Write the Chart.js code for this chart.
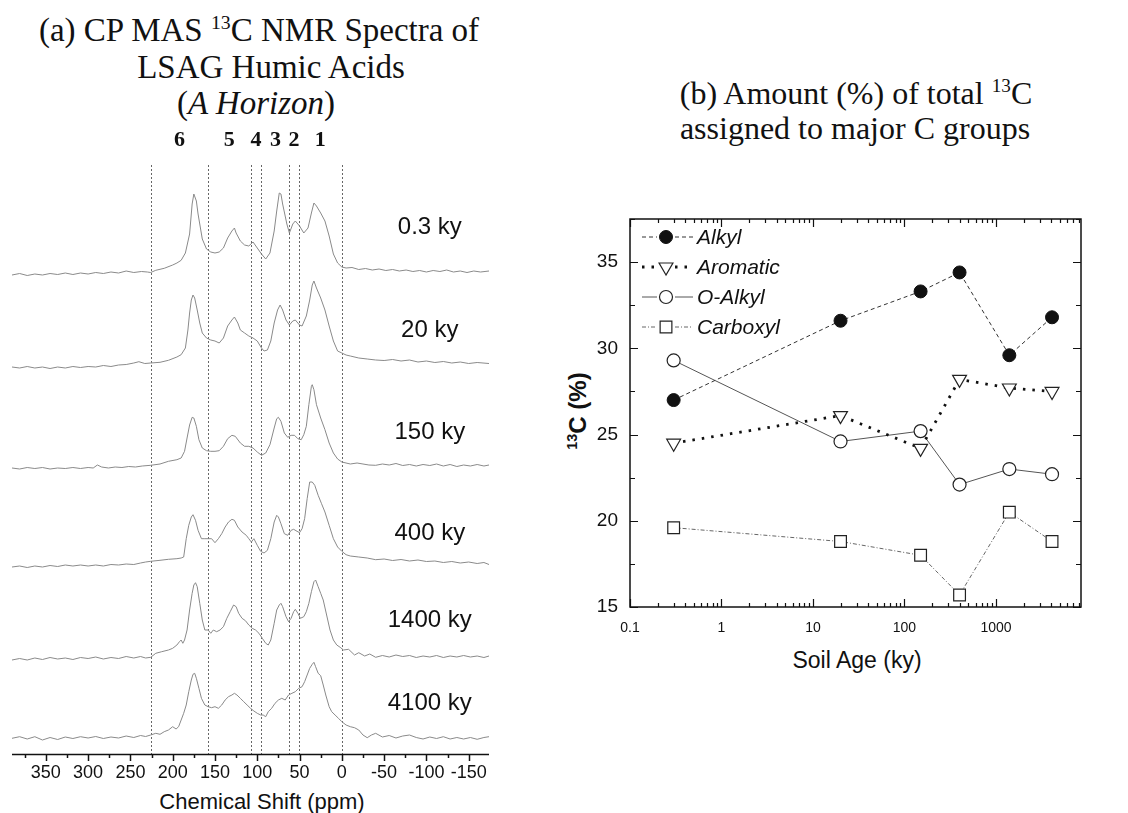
<!DOCTYPE html>
<html><head><meta charset="utf-8">
<script src="https://cdn.jsdelivr.net/npm/chart.js@4.4.1/dist/chart.umd.min.js"></script>
<style>
html,body{margin:0;padding:0;background:#fff;width:1128px;height:813px;overflow:hidden;position:relative;}
.t{position:absolute;font-family:"Liberation Serif","Times New Roman",serif;color:#111;white-space:nowrap;transform:translate(-50%,-50%);line-height:1;}
.s{position:absolute;font-family:"Liberation Sans",Arial,sans-serif;color:#111;white-space:nowrap;transform:translate(-50%,-50%);line-height:1;}
sup{font-size:0.6em;vertical-align:0;position:relative;top:-0.6em;}
#c1{position:absolute;left:0;top:0;}
#c2{position:absolute;left:560px;top:180px;}
</style></head><body>
<div class="t" style="left:259px;top:30px;font-size:33px">(a) CP MAS <sup>13</sup>C NMR Spectra of</div>
<div class="t" style="left:271px;top:67px;font-size:33px">LSAG Humic Acids</div>
<div class="t" style="left:256px;top:103px;font-size:33px">(<i>A Horizon</i>)</div>
<div class="t" style="left:856px;top:93px;font-size:32px">(b) Amount (%) of total <sup>13</sup>C</div>
<div class="t" style="left:855px;top:128px;font-size:32px">assigned to major C groups</div>
<div class="s" style="left:262px;top:802px;font-size:22px">Chemical Shift (ppm)</div>
<div class="s" style="left:857px;top:660px;font-size:23px">Soil Age (ky)</div>
<div class="s" style="left:578px;top:411px;font-size:24px;font-weight:bold;transform:translate(-50%,-50%) rotate(-90deg)"><sup>13</sup>C (%)</div>
<canvas id="c1" width="500" height="813"></canvas>
<canvas id="c2" width="568" height="500"></canvas>
<script>
// ---------- Panel (a): NMR spectra ----------
const ppmTicks = [350,300,250,200,150,100,50,0,-50,-100,-150];
const regionBounds = [226,158,108,95,62,51,0];
const regionLabels = ['6','5','4','3','2','1'];
const ageLabels = ['0.3 ky','20 ky','150 ky','400 ky','1400 ky','4100 ky'];
const stackOffsets = [483,390,288,191,97,16];

const spec03 = [[390,-4],[381,-2.5],[372,-4.5],[363,-3],[354,-4],[345,-2.5],[336,-3.5],[327,-2],[318,-3.5],[309,-2],[300,-3],[291,-1.5],[282,-2.5],[273,-1],[264,-2],[255,0],[246,-1.5],[237,-0.5],[230,-1],[226,-1.5],[220,0.7],[210,2.7],[200,6],[195,8],[190,10.7],[185,18],[180,37],[177,67],[175,77],[172,70],[170,57],[165,32],[160,22],[155,19],[150,18],[145,19],[140,23],[135,33],[130,40],[127,43],[125,38],[120,30],[115,26],[110,25],[105,29],[100,23],[95,17],[90,12],[85,18],[80,40],[77,60],[74,78],[72,77],[70,67],[65,47],[62,38],[58,47],[55,50],[50,45],[45,38],[40,43],[36,58],[33,68],[30,65],[25,58],[20,50],[15,35],[10,17],[5,8],[0,4],[-5,3],[-12,3.5],[-20,1.5],[-28,2.5],[-36,1],[-44,2],[-52,0.5],[-60,1.5],[-68,0],[-76,1],[-84,-0.5],[-92,0.5],[-100,-1],[-108,0.5],[-116,-0.5],[-124,1],[-132,-1],[-140,0],[-148,-1.5],[-156,0],[-164,-1],[-174,0]];
const spec20 = [[390,-3],[381,-4],[372,-2.5],[363,-4],[354,-3],[345,-4.5],[336,-3],[327,-4],[318,-2.5],[309,-3.5],[300,-2.5],[291,-3],[282,-1.5],[273,-2.5],[264,-1],[255,-0.5],[246,1],[240,2.3],[233,0.5],[226,1],[215,1.7],[205,3.7],[195,7],[190,9.3],[185,16],[182,34],[180,51],[178,64],[176,69],[174,66],[171,54],[168,41],[165,31],[160,26],[155,24],[150,23],[145,21],[140,26],[135,38],[130,44],[127,47],[123,41],[120,34],[115,31],[110,28],[105,26],[100,23],[95,16],[92,13],[88,14],[84,23],[80,41],[76,54],[73,59],[70,54],[66,44],[62,39],[58,43],[55,44],[50,39],[47,38],[42,48],[38,64],[35,79],[33,83],[30,76],[25,66],[20,54],[15,38],[10,23],[5,13],[0,11],[-5,9],[-10,8],[-20,6],[-30,5],[-40,4],[-50,3.5],[-60,4.5],[-70,3],[-80,4],[-90,2],[-100,3],[-110,1.5],[-120,2.5],[-130,1],[-140,2],[-150,0.5],[-160,1.5],[-174,0.5]];
const spec150 = [[390,-2],[381,-3],[372,-1.5],[363,-2.5],[354,-1.5],[345,-3],[336,-2],[327,-2.5],[318,-1.5],[309,-2.5],[300,-1.5],[294,-2],[289,1],[284,-1],[276,-2],[268,-1],[260,-1.5],[252,-0.5],[244,-1],[236,0],[226,0.7],[215,2],[205,4.7],[195,6.3],[190,8],[186,14.7],[183,28],[180,41],[177,48.7],[175,48],[172,39.7],[169,26.3],[165,18],[160,15.3],[155,14.7],[150,14.7],[145,15.3],[140,19.7],[135,27.3],[130,30.7],[126,29.7],[120,23],[115,19.7],[110,19.7],[105,18],[100,14],[95,10.7],[90,13],[85,21.3],[80,38],[77,47.3],[75,48.7],[72,44.7],[68,33],[64,28.7],[60,30.7],[56,30.7],[52,27.3],[48,26.3],[45,31.3],[42,39.7],[39,61.3],[36,79.7],[35,81.3],[33,76.3],[30,61.3],[25,48],[20,36.3],[15,23],[10,13],[5,7],[0,4],[-10,2],[-18,3],[-25,2],[-32,1],[-40,0.7],[-48,2],[-56,1],[-64,2.5],[-72,0.5],[-80,1.5],[-88,0],[-96,1.5],[-104,0.5],[-112,2],[-120,0],[-128,1.5],[-136,-0.5],[-144,1],[-152,0],[-160,1.5],[-168,0],[-174,1]];
const spec400 = [[390,-4],[381,-3],[372,-4.5],[363,-3],[354,-4],[345,-2.5],[336,-3.5],[327,-2],[318,-3],[309,-2],[300,-3],[291,-2],[282,-3],[273,-1.5],[264,-2],[255,-1],[246,-1.5],[238,0],[232,1],[226,1.7],[215,2.7],[205,3.7],[195,4.3],[190,5],[187,6],[184,24.3],[181,37.7],[178,46],[176,48.3],[173,42.7],[170,32.7],[166,24.3],[162,24.3],[158,24.3],[154,24.3],[150,20.3],[146,24.3],[142,29.3],[138,36],[134,41],[130,43.7],[127,42.7],[123,36],[118,31],[113,27.7],[110,24.3],[107,21],[104,24.3],[100,17.7],[96,11.7],[92,10],[88,12.7],[84,24.3],[80,41],[77,47.7],[75,46],[72,39.3],[68,29.3],[64,27.7],[60,32.7],[57,33.7],[53,31.7],[50,30.3],[47,34.3],[44,44.3],[41,64.3],[38,81],[35,81],[32,77.7],[28,67.7],[24,59.3],[20,51],[15,37.7],[10,24.3],[5,16],[0,11.7],[-5,8.3],[-10,7],[-20,6],[-30,5],[-40,3.3],[-50,4],[-60,2.5],[-70,3.5],[-80,2],[-90,3],[-100,1.5],[-110,2],[-120,0.5],[-130,1.5],[-140,0],[-150,1],[-160,-0.5],[-168,0.5],[-174,-1.5]];
const spec1400 = [[390,-3],[381,-1.5],[372,-3],[363,-1],[354,-2.5],[345,-0.5],[336,-2],[327,-1],[318,-2.5],[309,-0.5],[300,-1.5],[291,0],[282,-2],[273,-0.5],[264,-1.5],[255,0.5],[246,-1],[238,0.5],[232,-1],[226,-0.3],[220,3.7],[213,5.3],[205,7],[200,8.7],[195,12],[192,15.3],[190,17],[188,13.7],[186,17],[183,27],[180,47],[177,63.7],[175,72],[173,74.3],[171,70.3],[168,53.7],[165,37],[162,27],[158,27],[155,23.7],[152,27],[148,25.3],[144,27],[140,30.3],[136,38.7],[132,45.3],[128,52],[125,50.3],[122,43.7],[118,38.7],[114,36.3],[110,32],[106,28.7],[102,27],[98,23.7],[94,18.7],[90,13.7],[87,12],[84,17],[80,33.7],[77,47],[74,52],[72,53.7],[70,50.3],[66,40.3],[63,35.3],[60,38.7],[57,45.3],[55,47.7],[52,43.7],[49,38.7],[45,40.3],[42,45.3],[39,53.7],[36,65.3],[33,75.3],[31,77],[28,70.3],[25,63.7],[22,57],[18,42],[14,27],[10,17],[6,12],[2,9.7],[-2,7],[-8,7.7],[-15,2],[-20,4.3],[-27,1],[-33,3],[-40,-0.3],[-48,1.5],[-56,0],[-64,2],[-72,0.5],[-80,1.5],[-88,-0.5],[-96,1],[-104,0],[-112,1.5],[-120,-0.5],[-128,1],[-136,0],[-144,1.5],[-152,0],[-160,1],[-168,-0.5],[-174,1]];
const spec4100 = [[390,-0.3],[381,1.3],[372,-1],[363,1.3],[354,-2],[345,0.5],[336,-1.5],[327,1],[318,-0.5],[309,1.3],[300,0],[291,1.5],[282,-0.5],[273,1],[264,0],[255,2],[246,0.5],[238,2.5],[232,1.5],[226,3],[220,4.7],[215,3.7],[210,6.3],[205,8],[200,11.3],[196,9],[193,11.3],[190,18],[187,24.7],[184,33],[181,46.3],[178,58],[176,63.7],[174,64.7],[172,59.7],[169,49.7],[166,39.7],[162,33],[158,31.3],[154,30.3],[150,31.3],[146,29.7],[142,33],[138,38],[134,41.3],[130,43],[127,44.7],[124,43],[120,39.7],[116,36.3],[112,33],[108,29.7],[104,27],[100,24.7],[96,23],[93,23],[90,21.3],[87,26.3],[83,29.7],[79,34.7],[75,38],[71,39.7],[67,38],[63,43],[59,44.7],[55,46.3],[51,49.7],[47,51.3],[44,56.3],[41,63],[38,69.7],[35,73.7],[33,75.7],[31,71.3],[28,64.7],[25,62.3],[22,53],[19,43],[15,31.3],[12,26.3],[8,23],[4,19.7],[0,16.3],[-5,13],[-10,11.3],[-15,10.3],[-20,8],[-25,3],[-30,0.3],[-35,3],[-40,4.7],[-48,1],[-56,2.5],[-64,0],[-72,2],[-80,3],[-88,0.5],[-96,-1],[-104,1],[-112,-0.5],[-120,1.3],[-128,-1],[-136,0.5],[-144,-1],[-152,0.5],[-160,-1.3],[-168,0.5],[-174,1.3]];
const spectra = [spec03, spec20, spec150, spec400, spec1400, spec4100];

// ---------- Panel (b): % of total 13C ----------
const soilAge = [0.3, 20, 150, 400, 1400, 4100];
const alkyl    = [27.0, 31.6, 33.3, 34.4, 29.6, 31.8];
const aromatic = [24.5, 26.1, 24.2, 28.2, 27.7, 27.5];
const oAlkyl   = [29.3, 24.6, 25.2, 22.1, 23.0, 22.7];
const carboxyl = [19.6, 18.8, 18.0, 15.7, 20.5, 18.8];
const seriesNames = ['Alkyl','Aromatic','O-Alkyl','Carboxyl'];
const yTicks = [15,20,25,30,35];
const xTickLabels = [0.1, 1, 10, 100, 1000];

Chart.defaults.font.family = "'Liberation Sans', Arial, sans-serif";
Chart.defaults.color = '#111';

// layout constants (not data)
const AGE_LABEL_PPM = -104;
const AGE_LABEL_RISE = [44,34,34,30,37,35];
const REGION_LABEL_Y = 140;
const LEFT_TICKLABEL_GAP = 19;   // axis -> label centre
const RIGHT_XLABEL_GAP = 21;
const RIGHT_YLABEL_GAP = 12;

const leftDecor = {
  id: 'leftDecor',
  beforeDatasetsDraw(chart) {
    const {ctx, chartArea: a, scales: {x}} = chart;
    ctx.save();
    ctx.strokeStyle = '#666'; ctx.lineWidth = 1; ctx.setLineDash([2, 2]);
    regionBounds.forEach(p => {
      const px = Math.round(x.getPixelForValue(p)) + 0.5;
      ctx.beginPath(); ctx.moveTo(px, a.top); ctx.lineTo(px, a.bottom); ctx.stroke();
    });
    ctx.restore();
  },
  afterDraw(chart) {
    const {ctx, chartArea: a, scales: {x, y}} = chart;
    ctx.save();
    ctx.strokeStyle = '#111'; ctx.lineWidth = 1.5; ctx.setLineDash([]);
    ctx.beginPath(); ctx.moveTo(a.left, a.bottom + 0.5); ctx.lineTo(a.right, a.bottom + 0.5); ctx.stroke();
    for (let v = 375; v >= -175; v -= 25) {
      if (v > x.max || v < x.min) continue;
      const px = Math.round(x.getPixelForValue(v)) + 0.5;
      const len = (v % 50 === 0) ? 7 : 4;
      ctx.beginPath(); ctx.moveTo(px, a.bottom); ctx.lineTo(px, a.bottom + len); ctx.stroke();
    }
    ctx.fillStyle = '#111';
    ctx.textAlign = 'center'; ctx.textBaseline = 'middle';
    ctx.font = "18px 'Liberation Sans', Arial, sans-serif";
    x.ticks.forEach(t => ctx.fillText(String(t.value), x.getPixelForValue(t.value), a.bottom + LEFT_TICKLABEL_GAP));
    ctx.font = "bold 22px 'Liberation Serif', 'Times New Roman', serif";
    regionLabels.forEach((lab, i) => {
      const mid = (regionBounds[i] + regionBounds[i + 1]) / 2;
      ctx.fillText(lab, x.getPixelForValue(mid), REGION_LABEL_Y);
    });
    ctx.font = "24px 'Liberation Sans', Arial, sans-serif";
    ageLabels.forEach((lab, i) => {
      ctx.fillText(lab, x.getPixelForValue(AGE_LABEL_PPM), y.getPixelForValue(stackOffsets[i] + AGE_LABEL_RISE[i]));
    });
    ctx.restore();
  }
};

new Chart(document.getElementById('c1'), {
  type: 'scatter',
  data: {
    datasets: spectra.map((s, i) => ({
      label: ageLabels[i],
      data: s.map(([p, h]) => ({x: p, y: stackOffsets[i] + h})),
      showLine: true, pointRadius: 0, borderColor: '#8a8a8a', borderWidth: 1, tension: 0
    }))
  },
  options: {
    responsive: false, animation: false, events: [],
    layout: {padding: {top: 165, left: 12, right: 11, bottom: 0}},
    plugins: {legend: {display: false}, tooltip: {enabled: false}},
    scales: {
      x: {
        type: 'linear', reverse: true, min: -174, max: 390,
        afterBuildTicks: (s) => { s.ticks = ppmTicks.map(v => ({value: v})); },
        afterFit: (s) => { s.height = 59; },
        ticks: {display: false},
        grid: {display: false},
        border: {display: false}
      },
      y: {display: false, min: 0, max: 589}
    }
  },
  plugins: [leftDecor]
});

// ---------- right chart ----------
const LEGEND_X0 = 82, LEGEND_X1 = 133, LEGEND_MX = 106, LEGEND_TX = 137, LEGEND_Y0 = 57, LEGEND_DY = 30;

const rightDecor = {
  id: 'rightDecor',
  afterDraw(chart) {
    const {ctx, chartArea: a, scales: {x, y}} = chart;
    ctx.save();
    ctx.strokeStyle = '#111'; ctx.setLineDash([]);
    ctx.lineWidth = 1.5;
    ctx.strokeRect(a.left, a.top, a.right - a.left, a.bottom - a.top);
    ctx.lineWidth = 1.2;
    for (let e = -1; e <= 3; e++) for (let m = 1; m <= 9; m++) {
      const v = m * Math.pow(10, e);
      if (v < x.min - 1e-9 || v > x.max) continue;
      const px = Math.round(x.getPixelForValue(v)) + 0.5;
      const len = m === 1 ? 8 : 4;
      ctx.beginPath();
      ctx.moveTo(px, a.bottom); ctx.lineTo(px, a.bottom - len);
      ctx.moveTo(px, a.top); ctx.lineTo(px, a.top + len);
      ctx.stroke();
    }
    for (let v = 15; v <= 37.5; v += 2.5) {
      const py = Math.round(y.getPixelForValue(v)) + 0.5;
      const len = (v % 5 === 0) ? 8 : 5;
      ctx.beginPath();
      ctx.moveTo(a.left, py); ctx.lineTo(a.left + len, py);
      ctx.moveTo(a.right, py); ctx.lineTo(a.right - len, py);
      ctx.stroke();
    }
    // tick labels
    ctx.fillStyle = '#111'; ctx.textBaseline = 'middle';
    ctx.font = "14px 'Liberation Sans', Arial, sans-serif"; ctx.textAlign = 'center';
    xTickLabels.forEach(v => ctx.fillText(String(v), x.getPixelForValue(v), a.bottom + RIGHT_XLABEL_GAP));
    ctx.font = "19px 'Liberation Sans', Arial, sans-serif"; ctx.textAlign = 'right';
    yTicks.forEach(v => ctx.fillText(String(v), a.left - RIGHT_YLABEL_GAP, y.getPixelForValue(v)));
    // legend
    chart.data.datasets.forEach((ds, i) => {
      const ly = LEGEND_Y0 + i * LEGEND_DY;
      ctx.strokeStyle = ds.borderColor; ctx.lineWidth = ds.borderWidth;
      ctx.setLineDash(ds.borderDash || []);
      ctx.beginPath(); ctx.moveTo(LEGEND_X0, ly); ctx.lineTo(LEGEND_MX - 9, ly);
      ctx.moveTo(LEGEND_MX + 9, ly); ctx.lineTo(LEGEND_X1, ly); ctx.stroke();
      ctx.setLineDash([]);
      ctx.fillStyle = ds.pointBackgroundColor; ctx.strokeStyle = ds.pointBorderColor; ctx.lineWidth = ds.pointBorderWidth;
      Chart.helpers.drawPoint(ctx, {pointStyle: ds.pointStyle, radius: ds.pointRadius, rotation: ds.pointRotation || 0, borderWidth: ds.pointBorderWidth}, LEGEND_MX, ly);
      ctx.fillStyle = '#111';
      ctx.font = "italic 21px 'Liberation Sans', Arial, sans-serif";
      ctx.textAlign = 'left'; ctx.textBaseline = 'middle';
      ctx.fillText(ds.label, LEGEND_TX, ly + 1);
    });
    ctx.restore();
  }
};

const mk = (vals) => soilAge.map((a, i) => ({x: a, y: vals[i]}));

new Chart(document.getElementById('c2'), {
  type: 'scatter',
  data: {
    datasets: [
      {label: seriesNames[0], data: mk(alkyl), showLine: true, borderColor: '#333', borderWidth: 1, borderDash: [4, 3],
       pointStyle: 'circle', pointRadius: 6.5, pointBackgroundColor: '#111', pointBorderColor: '#111', pointBorderWidth: 1},
      {label: seriesNames[1], data: mk(aromatic), showLine: true, borderColor: '#111', borderWidth: 2.8, borderDash: [2.5, 7],
       pointStyle: 'triangle', pointRotation: 180, pointRadius: 8, pointBackgroundColor: '#fff', pointBorderColor: '#222', pointBorderWidth: 1.2},
      {label: seriesNames[2], data: mk(oAlkyl), showLine: true, borderColor: '#555', borderWidth: 1, borderDash: [],
       pointStyle: 'circle', pointRadius: 6.5, pointBackgroundColor: '#fff', pointBorderColor: '#222', pointBorderWidth: 1.2},
      {label: seriesNames[3], data: mk(carboxyl), showLine: true, borderColor: '#666', borderWidth: 1, borderDash: [4, 2, 1, 2],
       pointStyle: 'rect', pointRadius: 8.3, pointBackgroundColor: '#fff', pointBorderColor: '#222', pointBorderWidth: 1.2}
    ]
  },
  options: {
    responsive: false, animation: false, events: [],
    layout: {padding: {top: 39, left: 0, right: 47, bottom: 0}},
    plugins: {legend: {display: false}, tooltip: {enabled: false}},
    scales: {
      x: {
        type: 'logarithmic', min: 0.1, max: 8500,
        afterFit: (s) => { s.height = 73; },
        ticks: {display: false},
        grid: {display: false},
        border: {display: false}
      },
      y: {
        min: 15, max: 37.5,
        afterFit: (s) => { s.width = 70; },
        ticks: {display: false},
        grid: {display: false},
        border: {display: false}
      }
    }
  },
  plugins: [rightDecor]
});
</script>
</body></html>
